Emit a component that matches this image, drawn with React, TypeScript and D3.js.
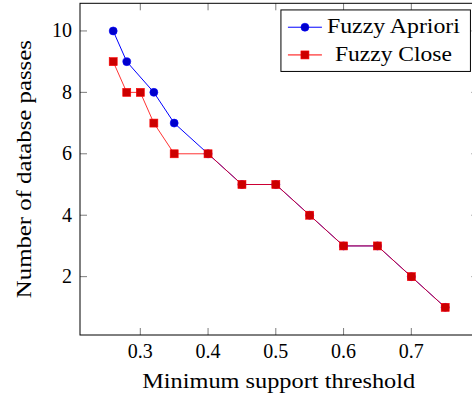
import React from 'react';
import * as d3 from 'd3';

// Fuzzy Apriori vs Fuzzy Close: database passes per support threshold
const aprioriX = [0.26, 0.28, 0.32, 0.35, 0.4, 0.45, 0.5, 0.55, 0.6, 0.65, 0.7, 0.75];
const aprioriY = [10, 9, 8, 7, 6, 5, 5, 4, 3, 3, 2, 1];
const closeX = [0.26, 0.28, 0.3, 0.32, 0.35, 0.4, 0.45, 0.5, 0.55, 0.6, 0.65, 0.7, 0.75];
const closeY = [9, 8, 8, 7, 6, 6, 5, 5, 4, 3, 3, 2, 1];
const xTicks = [0.3, 0.4, 0.5, 0.6, 0.7];
const yTicks = [2, 4, 6, 8, 10];
const seriesNames = ['Fuzzy Apriori', 'Fuzzy Close'];

const width = 472;
const height = 400;
const margin = { top: 3.3, right: -6.4, bottom: 65, left: 80 };
const txt = { fontFamily: 'Liberation Serif', fontSize: '20px' };

const App = () => {
  const xscale = d3
    .scaleLinear()
    .domain([0.211, 0.799])
    .range([margin.left, width - margin.right]);

  const yscale = d3
    .scaleLinear()
    .domain([0.1, 10.9])
    .range([height - margin.bottom, margin.top]);

  const x0 = xscale.range()[0];
  const x1 = xscale.range()[1];
  const y0 = yscale.range()[0];
  const y1 = yscale.range()[1];

  const line = d3
    .line<[number, number]>()
    .x(d => xscale(d[0]))
    .y(d => yscale(d[1]));

  const apriori = aprioriX.map((x, i) => [x, aprioriY[i]] as [number, number]);
  const close = closeX.map((x, i) => [x, closeY[i]] as [number, number]);

  const tickLen = 7;

  // legend box
  const lgX = x0 + 0.98 * (x1 - x0);
  const lgY = y1 + 0.02 * (y0 - y1);
  const lgW = 189.5;
  const lgH = 61.5;

  return (
    <svg
      width={width}
      height={height}
      style={{ position: 'absolute', left: 0, top: 0, background: '#fff' }}
    >
      <defs>
        <clipPath id="plot">
          <rect x={x0} y={y1} width={x1 - x0} height={y0 - y1} />
        </clipPath>
      </defs>

      {/* ticks */}
      <g stroke="#444" strokeWidth={0.7}>
        {xTicks.map(t => (
          <g key={'xt' + t}>
            <line x1={xscale(t)} x2={xscale(t)} y1={y0} y2={y0 - tickLen} />
            <line x1={xscale(t)} x2={xscale(t)} y1={y1} y2={y1 + tickLen} />
          </g>
        ))}
        {yTicks.map(t => (
          <g key={'yt' + t}>
            <line x1={x0} x2={x0 + tickLen} y1={yscale(t)} y2={yscale(t)} />
            <line x1={x1} x2={x1 - tickLen} y1={yscale(t)} y2={yscale(t)} />
          </g>
        ))}
      </g>

      <rect x={x0} y={y1} width={x1 - x0} height={y0 - y1} fill="none" stroke="#000" strokeWidth={1} />

      <g fill="#000">
        {xTicks.map(t => (
          <text key={'xl' + t} x={xscale(t)} y={357.5} textAnchor="middle" style={txt}>
            {t.toFixed(1)}
          </text>
        ))}
        {yTicks.map(t => (
          <text key={'yl' + t} x={72} y={yscale(t) + 6.5} textAnchor="end" style={txt}>
            {t}
          </text>
        ))}
        <text x={(x0 + x1) / 2 - 0.5} y={388} textAnchor="middle" style={txt} textLength={273} lengthAdjust="spacingAndGlyphs">
          Minimum support threshold
        </text>
        <text
          transform={`translate(31,${(y0 + y1) / 2}) rotate(-90)`}
          textAnchor="middle"
          style={txt}
          textLength={258}
          lengthAdjust="spacingAndGlyphs"
        >
          Number of databse passes
        </text>
      </g>

      <g clipPath="url(#plot)">
        <path d={line(apriori) || ''} fill="none" stroke="#0000ff" strokeWidth={1} />
        <path d={line(close) || ''} fill="none" stroke="#ff0000" strokeOpacity={0.8} strokeWidth={1} />
        {apriori.map((d, i) => (
          <circle key={'a' + i} cx={xscale(d[0])} cy={yscale(d[1])} r={4} fill="#0000cc" stroke="#0000ff" strokeWidth={0.6} />
        ))}
        {close.map((d, i) => (
          <rect
            key={'c' + i}
            x={xscale(d[0]) - 4}
            y={yscale(d[1]) - 4}
            width={8}
            height={8}
            fill="#cc0000"
            stroke="#ff0000"
            strokeWidth={0.6}
          />
        ))}
      </g>

      {/* legend */}
      <g>
        <rect x={lgX - lgW} y={lgY} width={lgW} height={lgH} fill="#fff" stroke="#000" strokeWidth={1} />
        {seriesNames.map((name, i) => {
          const cy = lgY + 17.3 + i * 27.7;
          const lx = lgX - lgW + 7;
          return (
            <g key={name}>
              <line x1={lx} x2={lx + 34} y1={cy} y2={cy} stroke={i === 0 ? '#0000ff' : '#ff0000'} strokeWidth={1} />
              {i === 0 ? (
                <circle cx={lx + 17} cy={cy} r={4} fill="#0000cc" stroke="#0000ff" strokeWidth={0.6} />
              ) : (
                <rect x={lx + 13} y={cy - 4} width={8} height={8} fill="#cc0000" stroke="#ff0000" strokeWidth={0.6} />
              )}
              <text
                x={lgX - lgW + 112.5}
                y={cy + 6}
                textAnchor="middle"
                style={txt}
                textLength={i === 0 ? 133 : 117}
                lengthAdjust="spacingAndGlyphs"
              >
                {name}
              </text>
            </g>
          );
        })}
      </g>
    </svg>
  );
};

export default App;
